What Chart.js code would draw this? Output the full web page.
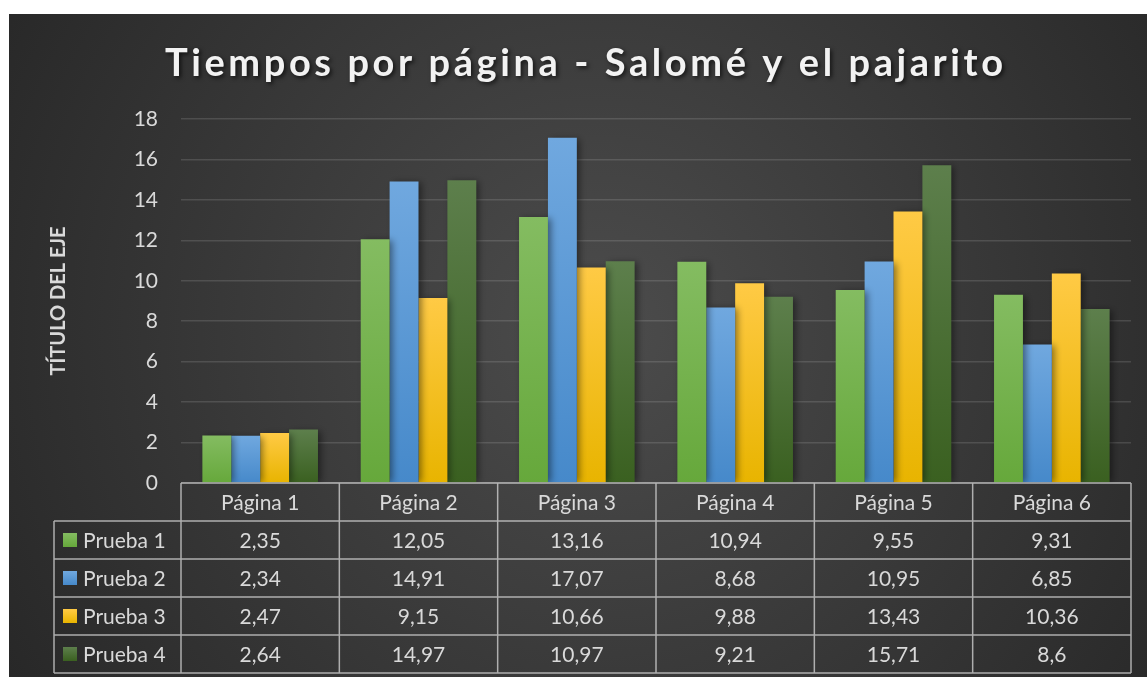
<!DOCTYPE html>
<html>
<head>
<meta charset="utf-8">
<title>Tiempos por página - Salomé y el pajarito</title>
<script src="https://cdn.jsdelivr.net/npm/chart.js@4.4.1/dist/chart.umd.min.js"></script>
<style>
  html, body { margin: 0; padding: 0; background: #fff; }
  #wrap { width: 1147px; height: 677px; position: relative; }
</style>
</head>
<body>
<div id="wrap"><canvas id="chart"></canvas></div>
<script>
const categories = ['Página 1', 'Página 2', 'Página 3', 'Página 4', 'Página 5', 'Página 6'];
const seriesNames = ['Prueba 1', 'Prueba 2', 'Prueba 3', 'Prueba 4'];
const prueba1 = [2.35, 12.05, 13.16, 10.94, 9.55, 9.31];
const prueba2 = [2.34, 14.91, 17.07, 8.68, 10.95, 6.85];
const prueba3 = [2.47, 9.15, 10.66, 9.88, 13.43, 10.36];
const prueba4 = [2.64, 14.97, 10.97, 9.21, 15.71, 8.6];
const yTicks = [0, 2, 4, 6, 8, 10, 12, 14, 16, 18];

const chartTitle = 'Tiempos por página - Salomé y el pajarito';
const axisTitle = 'TÍTULO DEL EJE';

const FONT = 'Lato, "Open Sans", sans-serif';
const TEXT = '#d9d9d9';

// top / bottom shades for each series
const shades = [
  ['#84bc61', '#66a83b'],
  ['#70a8df', '#4689ca'],
  ['#ffca45', '#e8b400'],
  ['#5d7f4c', '#3a6020']
];

function barFill(top, bottom) {
  return (c) => {
    const chart = c.chart;
    if (!chart.chartArea || c.type !== 'data') return bottom;
    const y = chart.scales.y;
    const g = chart.ctx.createLinearGradient(0, y.getPixelForValue(c.raw), 0, y.getPixelForValue(0));
    g.addColorStop(0, top);
    g.addColorStop(1, bottom);
    return g;
  };
}

const series = [prueba1, prueba2, prueba3, prueba4];

const background = {
  id: 'background',
  beforeDraw(chart) {
    const { ctx, width, height } = chart;
    ctx.save();
    ctx.fillStyle = '#ffffff';
    ctx.fillRect(0, 0, width, height);
    const g = ctx.createRadialGradient(600, 330, 20, 600, 330, 760);
    g.addColorStop(0, '#4b4b4b');
    g.addColorStop(1, '#242424');
    ctx.fillStyle = g;
    ctx.fillRect(9, 14, width - 9, height - 14);
    ctx.restore();
  }
};

const titles = {
  id: 'titles',
  afterDraw(chart) {
    const { ctx, chartArea } = chart;
    ctx.save();
    // main title, spaced out to its full width
    ctx.font = 'bold 38px ' + FONT;
    const plain = ctx.measureText(chartTitle).width;
    const spacing = (838 - plain) / (chartTitle.length - 1);
    ctx.letterSpacing = spacing + 'px';
    const w = ctx.measureText(chartTitle).width - spacing;
    ctx.textBaseline = 'alphabetic';
    ctx.textAlign = 'left';
    ctx.shadowColor = 'rgba(0,0,0,0.65)';
    ctx.shadowBlur = 4;
    ctx.shadowOffsetX = 2;
    ctx.shadowOffsetY = 2;
    ctx.fillStyle = '#f2f2f2';
    ctx.fillText(chartTitle, 584 - w / 2, 76);
    ctx.restore();

    // vertical axis title
    ctx.save();
    ctx.translate(59, (chartArea.top + chartArea.bottom) / 2);
    ctx.rotate(-Math.PI / 2);
    ctx.font = 'bold 20px ' + FONT;
    ctx.fillStyle = TEXT;
    ctx.textAlign = 'center';
    ctx.textBaseline = 'middle';
    ctx.fillText(axisTitle, 0, 0);
    ctx.restore();
  }
};

const barShadow = {
  id: 'barShadow',
  beforeDatasetsDraw(chart) {
    const ctx = chart.ctx;
    ctx.save();
    ctx.shadowColor = 'rgba(0,0,0,0.45)';
    ctx.shadowBlur = 7;
    ctx.shadowOffsetX = 3;
    ctx.shadowOffsetY = 1;
  },
  afterDatasetsDraw(chart) {
    chart.ctx.restore();
  }
};

// data table under the plot, aligned with the category scale
const dataTable = {
  id: 'dataTable',
  afterDraw(chart) {
    const { ctx, chartArea } = chart;
    const x = chart.scales.x;
    const rowH = 38;
    const top = chartArea.bottom;
    const left = 54;
    const right = chartArea.right;
    const step = x.getPixelForValue(1) - x.getPixelForValue(0);
    const nRows = series.length;
    const bottom = top + rowH * (nRows + 1);

    ctx.save();
    ctx.strokeStyle = 'rgba(205,205,205,0.8)';
    ctx.lineWidth = 1.5;
    ctx.beginPath();
    ctx.moveTo(chartArea.left, top);
    ctx.lineTo(right, top);
    for (let r = 1; r <= nRows + 1; r++) {
      ctx.moveTo(left, top + rowH * r);
      ctx.lineTo(right, top + rowH * r);
    }
    ctx.moveTo(left, top + rowH);
    ctx.lineTo(left, bottom);
    for (let i = 0; i <= categories.length; i++) {
      const px = x.getPixelForValue(0) - step / 2 + step * i;
      ctx.moveTo(px, top);
      ctx.lineTo(px, bottom);
    }
    ctx.stroke();

    ctx.font = '21px ' + FONT;
    ctx.fillStyle = TEXT;
    ctx.textBaseline = 'middle';
    ctx.textAlign = 'center';
    categories.forEach((c, i) => {
      ctx.fillText(c, x.getPixelForValue(i), top + rowH / 2 + 1);
    });
    series.forEach((vals, r) => {
      const cy = top + rowH * (r + 1) + rowH / 2 + 1;
      vals.forEach((v, i) => {
        ctx.fillText(String(v).replace('.', ','), x.getPixelForValue(i), cy);
      });
    });

    ctx.textAlign = 'left';
    seriesNames.forEach((name, r) => {
      const cy = top + rowH * (r + 1) + rowH / 2;
      const g = ctx.createLinearGradient(0, cy - 7, 0, cy + 7);
      g.addColorStop(0, shades[r][0]);
      g.addColorStop(1, shades[r][1]);
      ctx.fillStyle = g;
      ctx.fillRect(63, cy - 7, 14, 14);
      ctx.fillStyle = TEXT;
      ctx.fillText(name, 83, cy + 1);
    });
    ctx.restore();
  }
};

new Chart(document.getElementById('chart'), {
  type: 'bar',
  data: {
    labels: categories,
    datasets: series.map((vals, i) => ({
      label: seriesNames[i],
      data: vals,
      backgroundColor: barFill(shades[i][0], shades[i][1]),
      borderWidth: 0,
      categoryPercentage: 0.73,
      barPercentage: 1.0
    }))
  },
  options: {
    responsive: true,
    maintainAspectRatio: false,
    animation: false,
    layout: { padding: { top: 119, right: 16, bottom: 194, left: 0 } },
    plugins: {
      legend: { display: false },
      title: { display: false },
      tooltip: { enabled: false }
    },
    scales: {
      x: { display: false },
      y: {
        min: 0,
        max: 18,
        afterFit(scale) { scale.width = 181; },
        afterBuildTicks(scale) { scale.ticks = yTicks.map(v => ({ value: v })); },
        border: { display: false },
        grid: { color: 'rgba(255,255,255,0.13)', lineWidth: 1.5, drawTicks: false },
        ticks: { color: TEXT, font: { family: FONT, size: 21 }, padding: 23 }
      }
    }
  },
  plugins: [background, barShadow, titles, dataTable]
});
</script>
</body>
</html>
